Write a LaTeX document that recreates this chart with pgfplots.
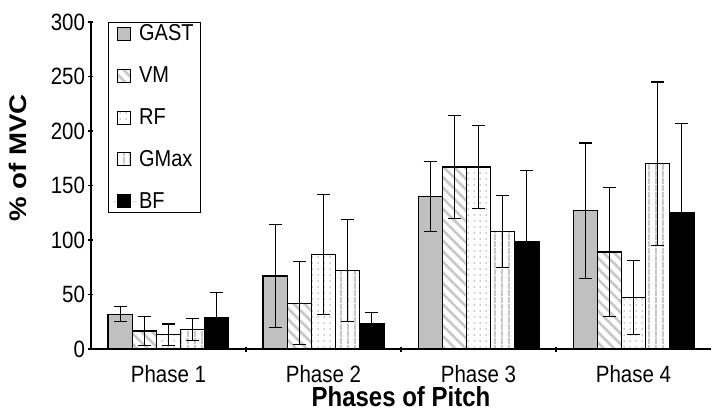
\documentclass[border=0pt]{standalone}
\usepackage{pgfplots}
\pgfplotsset{compat=1.18}
\usepackage{fontspec}
\setmainfont{Liberation Sans}
\usetikzlibrary{patterns.meta}
\definecolor{gastgray}{RGB}{192,192,192}
\definecolor{stripegray}{RGB}{200,200,200}
\definecolor{dotgray}{RGB}{150,150,150}
\newcommand{\vs}[1]{\scalebox{1}[1.15]{#1}}
\begin{document}
\begin{tikzpicture}
\begin{axis}[
  scale only axis,
  width=620pt, height=327pt,
  ybar=0pt,
  bar width=0.156,
  xmin=-0.5, xmax=3.5,
  ymin=0, ymax=300,
  ytick={0,50,...,300},
  yticklabel={\vs{\pgfmathprintnumber{\tick}}},
  xtick={0,1,2,3},
  xticklabels={\vs{Phase 1},\vs{Phase 2},\vs{Phase 3},\vs{Phase 4}},
  minor xtick={0.5,1.5,2.5},
  major x tick style={draw=none},
  major tick length=5pt,
  minor tick length=5pt,
  tick align=outside,
  axis x line=bottom,
  axis y line=left,
  axis line style={-, line width=1.2pt},
  tick style={line width=1.1pt, black},
  /pgf/number format/assume math mode=true,
  tick label style={font=\fontsize{20.5}{24}\selectfont},
  xticklabel style={yshift=-10pt},
  label style={font=\fontsize{24}{28}\selectfont\bfseries},
  xlabel={\vs{Phases of Pitch}},
  ylabel={\scalebox{1.15}[1]{\% of MVC}},
  xlabel style={at={(axis description cs:0.5,-0.145)}, anchor=center},
  ylabel style={at={(axis description cs:-0.118,0.584)}, anchor=center, rotate=0},
  every axis plot/.append style={draw=black, line width=1.1pt},
  error bars/error bar style={line width=1.2pt, black},
  error bars/error mark options={rotate=90, mark size=6.5pt, line width=1.2pt, black},
  legend style={at={(axis description cs:0.027,1)}, anchor=north west,
    draw=black, line width=0.8pt, font=\fontsize{20}{24}\selectfont,
    row sep=20.5pt, inner xsep=5pt, inner ysep=0.5pt,
    cells={anchor=west}},
  legend image code/.code={\draw[#1, line width=0.8pt] (4pt,-6.5pt) rectangle (17pt,6.5pt); \path[draw=none] (0pt,0pt) -- (24pt,0pt);},
]
\addplot[fill=gastgray, error bars/.cd, y dir=both, y explicit]
  coordinates {(0,32) +- (0,7) (1,67) +- (0,47) (2,140) +- (0,32) (3,127) +- (0,62)};
\addplot[pattern={Lines[angle=-45, distance=7.5pt, line width=2.6pt]}, pattern color=stripegray, error bars/.cd, y dir=both, y explicit]
  coordinates {(0,16.5) +- (0,13) (1,42) +- (0,38) (2,167) +- (0,47) (3,89) +- (0,59)};
\addplot[pattern={Dots[distance=6pt, radius=0.75pt]}, pattern color=dotgray, error bars/.cd, y dir=both, y explicit]
  coordinates {(0,13) +- (0,10) (1,87) +- (0,55) (2,167) +- (0,38) (3,47) +- (0,34)};
\addplot[pattern={Lines[angle=90, distance=6.5pt, line width=2.2pt]}, pattern color=stripegray, error bars/.cd, y dir=both, y explicit]
  coordinates {(0,18) +- (0,10) (1,72) +- (0,47) (2,108) +- (0,33) (3,170) +- (0,75)};
\addplot[fill=black, error bars/.cd, y dir=both, y explicit]
  coordinates {(0,29) +- (0,23) (1,23.5) +- (0,10) (2,98.5) +- (0,65) (3,125) +- (0,82)};
\legend{\vs{GAST},\vs{VM},\vs{RF},\vs{GMax},\vs{BF}}
\end{axis}
\pgfresetboundingbox
\path ([xshift=-91pt,yshift=-64pt]current axis.south west) rectangle ([xshift=1pt,yshift=22pt]current axis.north east);
\end{tikzpicture}
\end{document}
